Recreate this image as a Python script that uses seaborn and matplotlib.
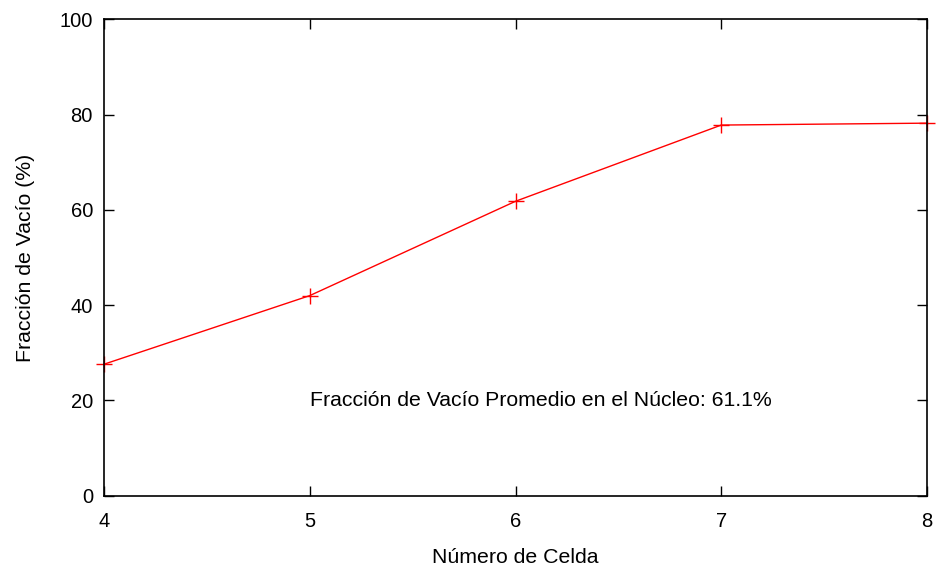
import matplotlib
matplotlib.use("Agg")
import matplotlib.pyplot as plt
import seaborn as sns
import pandas as pd

celdas = [4, 5, 6, 7, 8]
fraccion_vacio = [27.6, 42.0, 61.8, 77.8, 78.2]
x_ticks = [4, 5, 6, 7, 8]
y_ticks = [0, 20, 40, 60, 80, 100]
anotacion = "Fracción de Vacío Promedio en el Núcleo: 61.1%"

sns.set_theme(style="ticks")
plt.rcParams['font.family'] = ['Liberation Sans', 'DejaVu Sans']
plt.rcParams['text.color'] = 'black'
plt.rcParams['axes.labelcolor'] = 'black'

df = pd.DataFrame({"celda": celdas, "frac": fraccion_vacio})

fig = plt.figure(figsize=(9.39, 5.66), dpi=100)
ax = fig.add_axes([104/939, 1 - 495.7/566, (927-104)/939, (495.7-19.3)/566])

sns.lineplot(data=df, x="celda", y="frac", ax=ax, color="red", linewidth=1,
             marker="+", markersize=12, markeredgewidth=1, markeredgecolor="red",
             clip_on=False)

ax.set_xlim(4, 8)
ax.set_ylim(0, 100)
ax.set_xticks(x_ticks)
ax.set_yticks(y_ticks)
ax.tick_params(direction="in", length=7, width=1, top=True, right=True,
               labelsize=14.5, colors="black")
ax.tick_params(axis="x", pad=12)
ax.tick_params(axis="y", pad=8)
for s in ax.spines.values():
    s.set_linewidth(1.2)
    s.set_color("black")
ax.set_xlabel("Número de Celda", fontsize=15.3, labelpad=12)
ax.set_ylabel("Fracción de Vacío (%)", fontsize=15.3, labelpad=18)
ax.text(5, 20, anotacion, fontsize=15.3, ha="left", va="center")

fig.savefig("out.png", dpi=100)
